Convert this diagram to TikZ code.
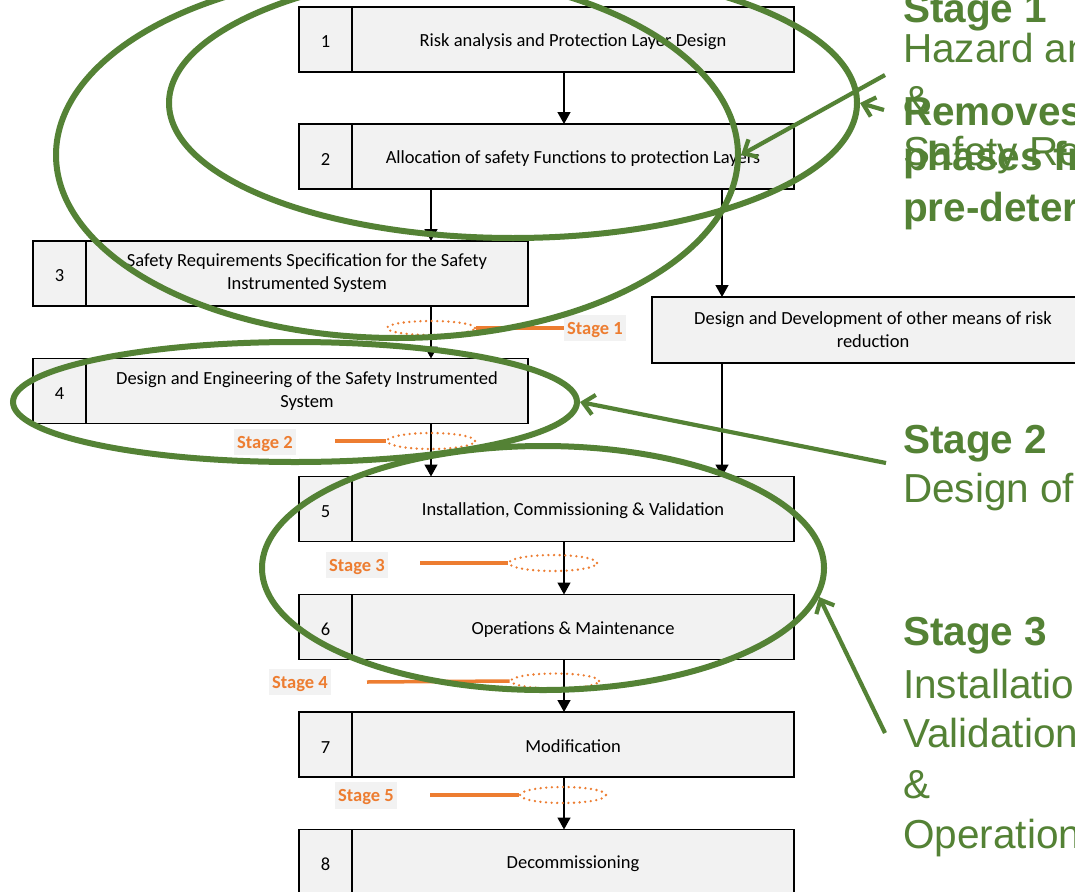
\documentclass[tikz,border=0pt]{standalone}
\usepackage{fontspec}
\setmainfont{Carlito}
\newfontfamily\slidefont{Liberation Sans}
\usetikzlibrary{arrows.meta,shapes.geometric}
\definecolor{boxfill}{HTML}{F2F2F2}
\definecolor{stagegreen}{HTML}{548235}
\definecolor{stageorange}{HTML}{ED7D31}

\tikzset{
  numcell/.style={draw=black, line width=1.5pt, fill=boxfill, minimum width=53pt,
    minimum height=65pt, inner sep=0pt, outer sep=0pt,
    font=\fontsize{18.5}{23}\selectfont,
    execute at begin node={\rule{0pt}{17pt}}},
  textcell/.style={numcell, minimum width=442pt, align=center},
  twoline/.style={execute at begin node={\rule{0pt}{23pt}}},
  flow/.style={line width=1.4pt, -{Triangle[length=12pt,width=13pt]}},
  dotring/.style={ellipse, draw=stageorange, line width=2.6pt,
    dash pattern=on 0pt off 5.6pt, line cap=round, inner sep=0pt},
  tagline/.style={draw=stageorange, line width=3.5pt},
  stagetag/.style={fill=boxfill, text=stageorange, inner sep=3.5pt,
    font=\fontsize{18.5}{22}\selectfont\bfseries,
    execute at begin node={\rule{0pt}{16pt}}},
  ring/.style={ellipse, draw=stagegreen, line width=6pt, inner sep=0pt},
  pointer/.style={draw=stagegreen, line width=4.2pt,
    -{Straight Barb[length=11pt,width=20pt]}},
  slide/.style={text=stagegreen, anchor=base west, inner sep=0pt,
    font=\slidefont\fontsize{40.5}{48}\selectfont},
  slidebold/.style={slide, font=\slidefont\fontsize{40.5}{48}\selectfont\bfseries},
}

\begin{document}
\begin{tikzpicture}[x=1pt,y=-1pt]
\useasboundingbox (0,0) rectangle (1075,891);
\clip (0,0) rectangle (1075,891);
\fill[white] (0,0) rectangle (1075,891);

% lifecycle boxes
\node[numcell] (n1) at (325.5,39.5) {1};
\node[textcell, anchor=west] (b1) at (n1.east) {Risk analysis and Protection Layer Design};
\node[numcell] (n2) at (325.5,156.5) {2};
\node[textcell, anchor=west] (b2) at (n2.east) {Allocation of safety Functions to protection Layers};
\node[numcell] (n3) at (59.5,273.5) {3};
\node[textcell, twoline, anchor=west] (b3) at (n3.east) {Safety Requirements Specification for the Safety\\Instrumented System};
\node[numcell] (n4) at (59.5,391) {4};
\node[textcell, twoline, anchor=west] (b4) at (n4.east) {Design and Engineering of the Safety Instrumented\\System};
\node[textcell, twoline, minimum height=66pt] (other) at (873,330) {Design and Development of other means of risk\\reduction};
\node[numcell] (n5) at (325.5,509) {5};
\node[textcell, anchor=west] (b5) at (n5.east) {Installation, Commissioning \& Validation};
\node[numcell] (n6) at (325.5,627) {6};
\node[textcell, anchor=west] (b6) at (n6.east) {Operations \& Maintenance};
\node[numcell] (n7) at (325.5,744.5) {7};
\node[textcell, anchor=west] (b7) at (n7.east) {Modification};
\node[numcell] (n8) at (325.5,862) {8};
\node[textcell, anchor=west] (b8) at (n8.east) {Decommissioning};

% vertical lanes of the flow arrows
\coordinate (laneL) at (431,0);
\coordinate (laneM) at (564,0);
\coordinate (laneR) at (722,0);

\draw[flow] (b1.south -| laneM) -- (b2.north -| laneM);
\draw[flow] (b2.south -| laneL) -- (b3.north -| laneL);
\draw[flow] (b2.south -| laneR) -- (other.north -| laneR);
\draw[flow] (b3.south -| laneL) -- (b4.north -| laneL);
\draw[flow] (b4.south -| laneL) -- (b5.north -| laneL);
\draw[flow] (other.south -| laneR) -- (b5.north -| laneR);
\draw[flow] (b5.south -| laneM) -- (b6.north -| laneM);
\draw[flow] (b6.south -| laneM) -- (b7.north -| laneM);
\draw[flow] (b7.south -| laneM) -- (b8.north -| laneM);

% stage boundaries
\node[dotring, minimum width=88pt, minimum height=14pt] (r1) at (431,328) {};
\node[stagetag] (s1) at (595,328) {Stage 1};
\draw[tagline] (r1.east) -- (s1.west);

\node[dotring, minimum width=88pt, minimum height=16pt] (r2) at (431,441) {};
\node[stagetag] (s2) at (265,442) {Stage 2};
\coordinate (t2) at (335,441);
\draw[tagline] (t2) -- (r2.west);

\node[dotring, minimum width=88pt, minimum height=16pt] (r3) at (553,563) {};
\node[stagetag] (s3) at (357,565) {Stage 3};
\coordinate (t3) at (420,563);
\draw[tagline] (t3) -- (r3.west);

\node[dotring, minimum width=88pt, minimum height=15pt] (r4) at (555,681) {};
\node[stagetag] (s4) at (300,682) {Stage 4};
\coordinate (t4) at (367,682);
\draw[tagline] (t4) -- (r4.west);

\node[dotring, minimum width=86pt, minimum height=16pt] (r5) at (563,795) {};
\node[stagetag] (s5) at (366,795.5) {Stage 5};
\coordinate (t5) at (430,795);
\draw[tagline] (t5) -- (r5.west);

% green stage rings
\node[ring, minimum width=682pt, minimum height=366pt] (ringA) at (397,155) {};
\node[ring, minimum width=688pt, minimum height=270pt] (ringB) at (513,103) {};
\node[ring, minimum width=564pt, minimum height=120pt] (ringC) at (295,402) {};
\node[ring, minimum width=562pt, minimum height=244pt] (ringD) at (543,568) {};

% pointers from the side notes
\coordinate (pA) at (885,75);
\coordinate (pB) at (884,110);
\coordinate (pC) at (886,463);
\coordinate (pD) at (885,733);
\draw[pointer] (pA) -- (ringA.east);
\draw[pointer] (pB) -- (ringB.east);
\draw[pointer] (pC) -- (ringC.east);
\draw[pointer] (pD) -- (ringD.-6);

% side notes
\node[slidebold] (g1t) at (903,23) {Stage 1};
\node[slide] (g1a) at (903,63) {Hazard and};
\node[slide] (g1b) at (903,114) {\&};
\node[slide] (g1c) at (903,165) {Safety Requirements};
\node[slidebold] (o1) at (903,125) {Removes};
\node[slidebold] (o2) at (903,170) {phases from};
\node[slidebold] (o3) at (903,221) {pre-determined};

\node[slidebold] (g2t) at (903,453) {Stage 2};
\node[slide] (g2a) at (903,502) {Design of};

\node[slidebold] (g3t) at (903,645) {Stage 3};
\node[slide] (g3a) at (903,698) {Installation};
\node[slide] (g3b) at (903,747) {Validation};
\node[slide] (g3c) at (903,798) {\&};
\node[slide] (g3d) at (903,848) {Operation};
\end{tikzpicture}
\end{document}
